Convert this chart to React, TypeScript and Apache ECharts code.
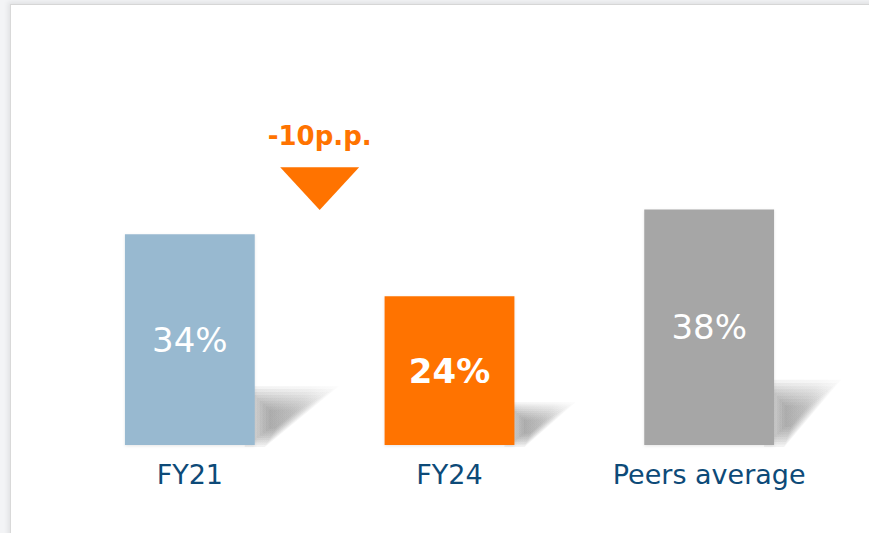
import React, { useEffect, useRef } from "react";
import * as echarts from "echarts";

const categories = ["FY21", "FY24", "Peers average"];
const values = [34, 24, 38];
const barColors = ["#98B9D0", "#FF7300", "#A6A6A6"];
const boldLabel = [false, true, false];
const changeFrom = 0;
const changeTo = 1;
const changeText = "-10p.p.";
const changeTextY = 49.9;
const changeTriTop = 44.8;
const changeTriApex = 37.9;

const FONT = "'DejaVu Sans', sans-serif";

export default function App() {
  const ref = useRef<HTMLDivElement>(null);
  useEffect(() => {
    document.body.style.margin = "0";
    const chart = echarts.init(ref.current!, null, { renderer: "svg" });
    chart.setOption({
      animation: false,
      grid: { left: 60, right: 30, top: 73, bottom: 88 },
      xAxis: {
        type: "category",
        data: categories,
        axisLine: { show: false },
        axisTick: { show: false },
        axisLabel: { color: "#0D4A78", fontSize: 27, fontFamily: FONT, margin: 16 },
      },
      yAxis: { type: "value", min: 0, max: 60, show: false, splitLine: { show: false } },
      series: [
        {
          type: "custom",
          z: 1,
          data: values.map((v, i) => [i, v]),
          renderItem: (params: any, api: any) => {
            const idx = api.value(0);
            const v = api.value(1);
            const p0 = api.coord([idx, 0]);
            const p1 = api.coord([idx, v]);
            const bw = api.size([1, 0])[0] * 0.5;
            const right = p0[0] + bw / 2;
            const h = p0[1] - p1[1];
            const sh = h * 0.26;
            const w = h * 0.37;
            const b = p0[1];
            const cs = params.coordSys;
            const maxX = cs ? cs.x + cs.width + 2 : right + w;
            const endX = Math.min(right + w + 6, maxX);
            const base = [
              [right - 10, b - sh - 4],
              [endX, b - sh - 4],
              [right + 10, b + 2],
              [right - 10, b + 2],
            ];
            const cx = right + (endX - right) * 0.3;
            const cy = b - sh * 0.45;
            const layers = [];
            const n = 9;
            for (let i = 0; i < n; i++) {
              const s = 1 - i * 0.085;
              const pts = base.map((p) => [cx + (p[0] - cx) * s, cy + (p[1] - cy) * s]);
              layers.push({
                type: "polygon",
                shape: { points: pts },
                style: {
                  fill: new echarts.graphic.LinearGradient(0, 0, 1, 0, [
                    { offset: 0, color: "rgba(90,90,90,0.085)" },
                    { offset: 0.7, color: "rgba(110,110,110,0.06)" },
                    { offset: 1, color: "rgba(140,140,140,0.03)" },
                  ]),
                },
              });
            }
            return { type: "group", children: layers };
          },
        },
        {
          type: "bar",
          z: 2,
          barWidth: "50%",
          data: values.map((v, i) => ({
            value: v,
            itemStyle: {
              color: barColors[i],
              shadowColor: "rgba(0,0,0,0.1)",
              shadowBlur: 3,
              shadowOffsetY: 1,
            },
            label: { fontWeight: boldLabel[i] ? "bold" : "normal" },
          })),
          label: {
            show: true,
            position: "inside",
            color: "#ffffff",
            fontSize: 34,
            fontFamily: FONT,
            formatter: "{c}%",
          },
        },
        {
          type: "custom",
          z: 3,
          data: [[changeFrom, changeTo]],
          renderItem: (params: any, api: any) => {
            const a = api.value(0);
            const b = api.value(1);
            const x = (api.coord([a, 0])[0] + api.coord([b, 0])[0]) / 2;
            const half = api.size([1, 0])[0] * 0.152;
            const ty = api.coord([a, changeTriTop])[1];
            const ay = api.coord([a, changeTriApex])[1];
            const txy = api.coord([a, changeTextY])[1];
            return {
              type: "group",
              children: [
                {
                  type: "polygon",
                  shape: { points: [[x - half, ty], [x + half, ty], [x, ay]] },
                  style: { fill: "#FF7300" },
                },
                {
                  type: "text",
                  style: {
                    text: changeText,
                    x,
                    y: txy,
                    align: "center",
                    verticalAlign: "middle",
                    fill: "#FF7300",
                    fontSize: 26,
                    fontWeight: "bold",
                    fontFamily: FONT,
                  },
                },
              ],
            };
          },
        },
      ],
    });
    return () => chart.dispose();
  }, []);
  return (
    <div style={{ position: "relative", width: 869, height: 533, background: "#F3F4F6", overflow: "hidden" }}>
      <div
        style={{
          position: "absolute",
          left: 10,
          top: 4,
          width: 880,
          height: 560,
          background: "#ffffff",
          borderLeft: "1px solid #D9D9D9",
          borderTop: "1px solid #D6D6D6",
          boxShadow: "-2px -2px 5px rgba(0,0,0,0.08)",
        }}
      />
      <div ref={ref} style={{ position: "absolute", left: 0, top: 0, width: 869, height: 533 }} />
    </div>
  );
}
